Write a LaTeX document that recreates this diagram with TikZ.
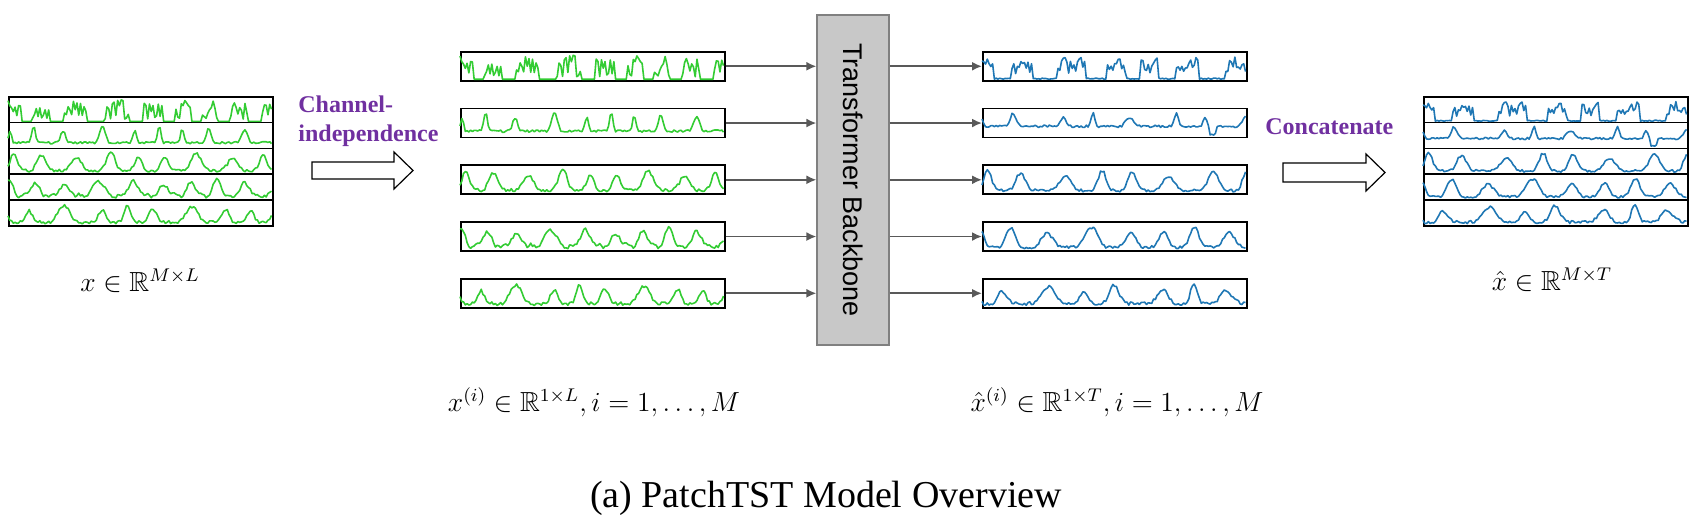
\documentclass[tikz,border=0pt]{standalone}
\usepackage[no-math]{fontspec}
\usepackage{amssymb}
\usepackage{amsmath}
\newfontfamily\timesfont{Liberation Serif}
\newfontfamily\arialfont{Liberation Sans}
\usetikzlibrary{arrows.meta}
\definecolor{chpurple}{HTML}{7030A0}
\definecolor{sgreen}{HTML}{33CC33}
\definecolor{sblue}{HTML}{1F77B4}
\definecolor{tbgray}{HTML}{C8C8C8}
\definecolor{linkgray}{HTML}{595959}

% series inside a box: #1 box, #2 seed, #3 box height, #4 shape in \t, #5 line style
\newcommand{\series}[5]{%
  \pgfmathsetseed{#2}%
  \begin{scope}[shift={(#1.south west)}]
    \draw[#5] plot[domain=0:1, samples=150, variable=\t] ({264*\t}, {-#3*(0.08+0.84*(#4))});
  \end{scope}}
% math labels a bit wider than 12pt
\newcommand{\mlbl}[1]{\scalebox{1.15}{$#1$}}

% shapes of the input channels
\def\gA{((sin(2880*\t+20+80*sin(500*\t)))>(-0.3))*(0.1+0.9*rnd)}
\def\gB{0.15+0.1*rnd+(0.45+0.35*abs(sin(777*\t)))*pow(max(0,sin(3240*\t+60+90*sin(600*\t))),5)}
\def\gC{0.03+0.14*rnd+(0.7+0.13*sin(1100*\t+30))*pow(0.5+0.5*sin(3100*\t+10+50*sin(700*\t)),2.5)}
\def\gD{0.03+0.14*rnd+(0.62+0.12*sin(900*\t+100))*pow(0.5+0.5*sin(3150*\t+80+60*sin(500*\t)),2)+0.1*pow(0.5+0.5*sin(7000*\t),4)}
\def\gE{0.03+0.15*rnd+(0.65+0.15*sin(1300*\t+200))*pow(0.5+0.5*sin(3050*\t+150+70*sin(800*\t)),3)}
% shapes of the outputs
\def\bA{((sin(2300*\t+50+60*sin(600*\t)))>(-0.1))*(0.25+0.55*rnd+0.1*sin(5000*\t))+0.05*rnd}
\def\bB{0.35+0.1*rnd+(0.35+0.2*abs(sin(650*\t)))*pow(max(0,sin(2500*\t+100+60*sin(900*\t))),6)-0.33*(\t>0.86)*(\t<0.89)}
\def\bC{0.03+0.12*rnd+(0.7+0.13*sin(800*\t+60))*pow(0.5+0.5*sin(2600*\t+20+50*sin(700*\t)),3)}
\def\bD{0.03+0.12*rnd+(0.7+0.13*sin(1000*\t+10))*pow(0.5+0.5*sin(2600*\t+120+60*sin(500*\t)),2.5)}
\def\bE{0.04+0.14*rnd+(0.65+0.15*sin(1200*\t+200))*pow(0.5+0.5*sin(2550*\t+200+60*sin(900*\t)),3)}

\begin{document}
\begin{tikzpicture}[x=0.5pt, y=-0.5pt, inner sep=0pt,
      serbox/.style={draw, line width=0.8pt, minimum width=132pt, anchor=north west},
      rowbox/.style={serbox, minimum height=12.9pt},
      chbox/.style={serbox, minimum height=14.5pt},
      gline/.style={sgreen, line width=0.8pt, line join=round},
      bline/.style={sblue, line width=0.8pt, line join=round},
      feed/.style={-{Latex[length=5pt, width=4.5pt]}, linkgray, line width=0.9pt},
      tbbox/.style={draw=gray, fill=tbgray, line width=0.6pt,
        minimum width=36pt, minimum height=165pt},
      hollow/.style={draw, line width=0.6pt, fill=white, line join=miter},
      steplbl/.style={text=chpurple, align=left,
        font=\timesfont\bfseries\fontsize{12}{14.5}\selectfont},
      mathlbl/.style={anchor=base, font=\fontsize{12}{14}\selectfont}]
      \useasboundingbox (0,0) rectangle (1692,522);
      % multivariate input
      \node[rowbox](in_1) at (8,96) {};
      \node[rowbox](in_2) at (8,121.8) {};
      \node[rowbox](in_3) at (8,147.6) {};
      \node[rowbox](in_4) at (8,173.4) {};
      \node[rowbox](in_5) at (8,199.2) {};
      \series{in_1}{11}{25.8}{\gA}{gline}
      \series{in_2}{12}{25.8}{\gB}{gline}
      \series{in_3}{13}{25.8}{\gC}{gline}
      \series{in_4}{14}{25.8}{\gD}{gline}
      \series{in_5}{15}{25.8}{\gE}{gline}
      \node[mathlbl](x_lbl) at (140,292) {\mlbl{x \in \mathbb{R}^{M\times L}}};
      % channel-independence
      \node[steplbl, anchor=north west](split) at (298,95) {Channel-\\independence};
      \draw[hollow] (312,162) -- (394,162) -- (394,152) -- (413,170.5)
        -- (394,189) -- (394,179) -- (312,179) -- cycle;
      % single channels
      \node[chbox](ch_1) at (460,51) {};
      \node[chbox](ch_2) at (460,107.75) {};
      \node[chbox](ch_3) at (460,164.5) {};
      \node[chbox](ch_4) at (460,221.25) {};
      \node[chbox](ch_5) at (460,278) {};
      \series{ch_1}{11}{29}{\gA}{gline}
      \series{ch_2}{12}{29}{\gB}{gline}
      \series{ch_3}{13}{29}{\gC}{gline}
      \series{ch_4}{14}{29}{\gD}{gline}
      \series{ch_5}{15}{29}{\gE}{gline}
      \node[mathlbl](xi_lbl) at (594,412) {\mlbl{x^{(i)} \in \mathbb{R}^{1\times L}, i = 1, \ldots, M}};
      % backbone
      \node[tbbox](tb) at (853,180) {\rotatebox{-90}{\arialfont\fontsize{13.5}{16}\selectfont Transformer Backbone}};
      \path[feed] (ch_1.east) edge (ch_1.east -| tb.west);
      \path[feed] (ch_2.east) edge (ch_2.east -| tb.west);
      \path[feed] (ch_3.east) edge (ch_3.east -| tb.west);
      \path[feed] (ch_4.east) edge (ch_4.east -| tb.west);
      \path[feed] (ch_5.east) edge (ch_5.east -| tb.west);
      % single outputs
      \node[chbox](out_1) at (982,51) {};
      \node[chbox](out_2) at (982,107.75) {};
      \node[chbox](out_3) at (982,164.5) {};
      \node[chbox](out_4) at (982,221.25) {};
      \node[chbox](out_5) at (982,278) {};
      \path[feed] (tb.east |- out_1.west) edge (out_1.west);
      \path[feed] (tb.east |- out_2.west) edge (out_2.west);
      \path[feed] (tb.east |- out_3.west) edge (out_3.west);
      \path[feed] (tb.east |- out_4.west) edge (out_4.west);
      \path[feed] (tb.east |- out_5.west) edge (out_5.west);
      \series{out_1}{21}{29}{\bA}{bline}
      \series{out_2}{22}{29}{\bB}{bline}
      \series{out_3}{23}{29}{\bC}{bline}
      \series{out_4}{24}{29}{\bD}{bline}
      \series{out_5}{25}{29}{\bE}{bline}
      \node[mathlbl](xhi_lbl) at (1117,412) {\mlbl{{\hat{x}}^{(i)} \in \mathbb{R}^{1\times T}, i = 1, \ldots, M}};
      % concatenate
      \node[steplbl, anchor=base west](concat) at (1265,135) {Concatenate};
      \draw[hollow] (1283,163) -- (1366,163) -- (1366,154) -- (1385,172.5)
        -- (1366,191) -- (1366,182) -- (1283,182) -- cycle;
      % multivariate output
      \node[rowbox](fc_1) at (1423,96) {};
      \node[rowbox](fc_2) at (1423,121.8) {};
      \node[rowbox](fc_3) at (1423,147.6) {};
      \node[rowbox](fc_4) at (1423,173.4) {};
      \node[rowbox](fc_5) at (1423,199.2) {};
      \series{fc_1}{21}{25.8}{\bA}{bline}
      \series{fc_2}{22}{25.8}{\bB}{bline}
      \series{fc_3}{23}{25.8}{\bC}{bline}
      \series{fc_4}{24}{25.8}{\bD}{bline}
      \series{fc_5}{25}{25.8}{\bE}{bline}
      \node[mathlbl](xh_lbl) at (1552,291) {\mlbl{\hat{x} \in \mathbb{R}^{M\times T}}};
      % caption
      \node[anchor=base, font=\timesfont\fontsize{19}{22}\selectfont](cap) at (826,508) {(a) PatchTST Model Overview};
  \end{tikzpicture}
\end{document}
